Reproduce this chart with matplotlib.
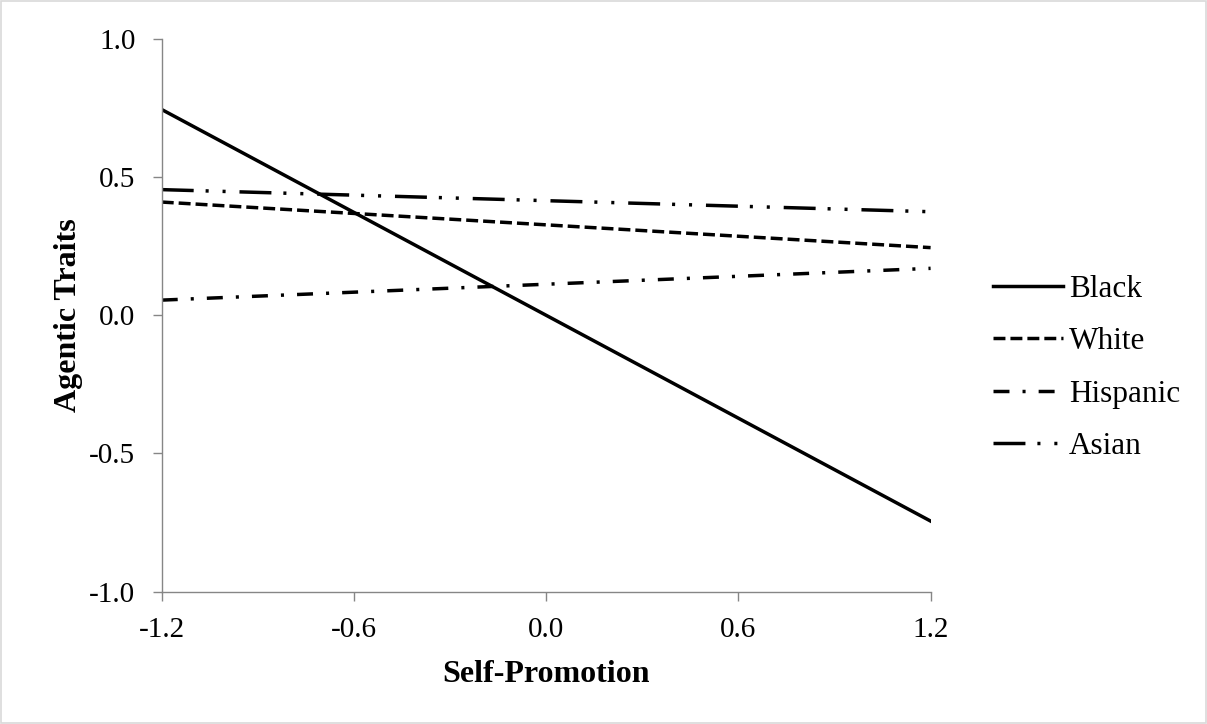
import matplotlib
matplotlib.use("Agg")
import matplotlib.pyplot as plt
from matplotlib.patches import Rectangle

# simple slopes
x_vals = [-1.2, 1.2]
black = [0.745, -0.745]
white = [0.41, 0.245]
hispanic = [0.055, 0.17]
asian = [0.455, 0.375]

x_ticks = [-1.2, -0.6, 0.0, 0.6, 1.2]
y_ticks = [-1.0, -0.5, 0.0, 0.5, 1.0]

plt.rcParams['font.family'] = ['Liberation Serif', 'DejaVu Serif']
plt.rcParams['lines.scale_dashes'] = False

fig = plt.figure(figsize=(12.07, 7.24), dpi=100)
ax = fig.add_axes([0.134, 0.183, 0.637, 0.763])

lw = 2.5
ax.plot(x_vals, black, color='black', lw=lw, label='Black')
ax.plot(x_vals, white, color='black', lw=lw, dashes=(8.6, 3.6), label='White')
ax.plot(x_vals, hispanic, color='black', lw=lw, dashes=(11.5, 9.4, 2.2, 9.4), label='Hispanic')
ax.plot(x_vals, asian, color='black', lw=lw, dashes=(23, 8.6, 2.2, 10, 2.2, 10), label='Asian')

ax.set_xlim(-1.2, 1.2)
ax.set_ylim(-1.0, 1.0)
ax.set_xticks(x_ticks)
ax.set_yticks(y_ticks)
ax.set_xticklabels(['%.1f' % v for v in x_ticks])
ax.set_yticklabels(['%.1f' % v for v in y_ticks])

for s in ['top', 'right']:
    ax.spines[s].set_visible(False)
for s in ['left', 'bottom']:
    ax.spines[s].set_color('#868686')
    ax.spines[s].set_linewidth(1.0)
ax.tick_params(axis='both', direction='out', length=6.5, width=1.0, color='#868686',
               labelsize=21)
ax.tick_params(axis='x', pad=12)
ax.tick_params(axis='y', pad=12.5)

ax.set_xlabel('Self-Promotion', fontsize=23, fontweight='bold', labelpad=12)
ax.set_ylabel('Agentic Traits', fontsize=23, fontweight='bold', labelpad=4.5)

fig.legend(loc='center left', bbox_to_anchor=(0.8227, 0.4915), frameon=False,
           fontsize=22.5, handlelength=2.24, handletextpad=0.2, labelspacing=0.75,
           borderaxespad=0, borderpad=0)

fig.add_artist(Rectangle((0.001, 0.001), 0.998, 0.997, transform=fig.transFigure,
                         fill=False, edgecolor='#d9d9d9', lw=1.2))

fig.savefig('out.png', dpi=100)
